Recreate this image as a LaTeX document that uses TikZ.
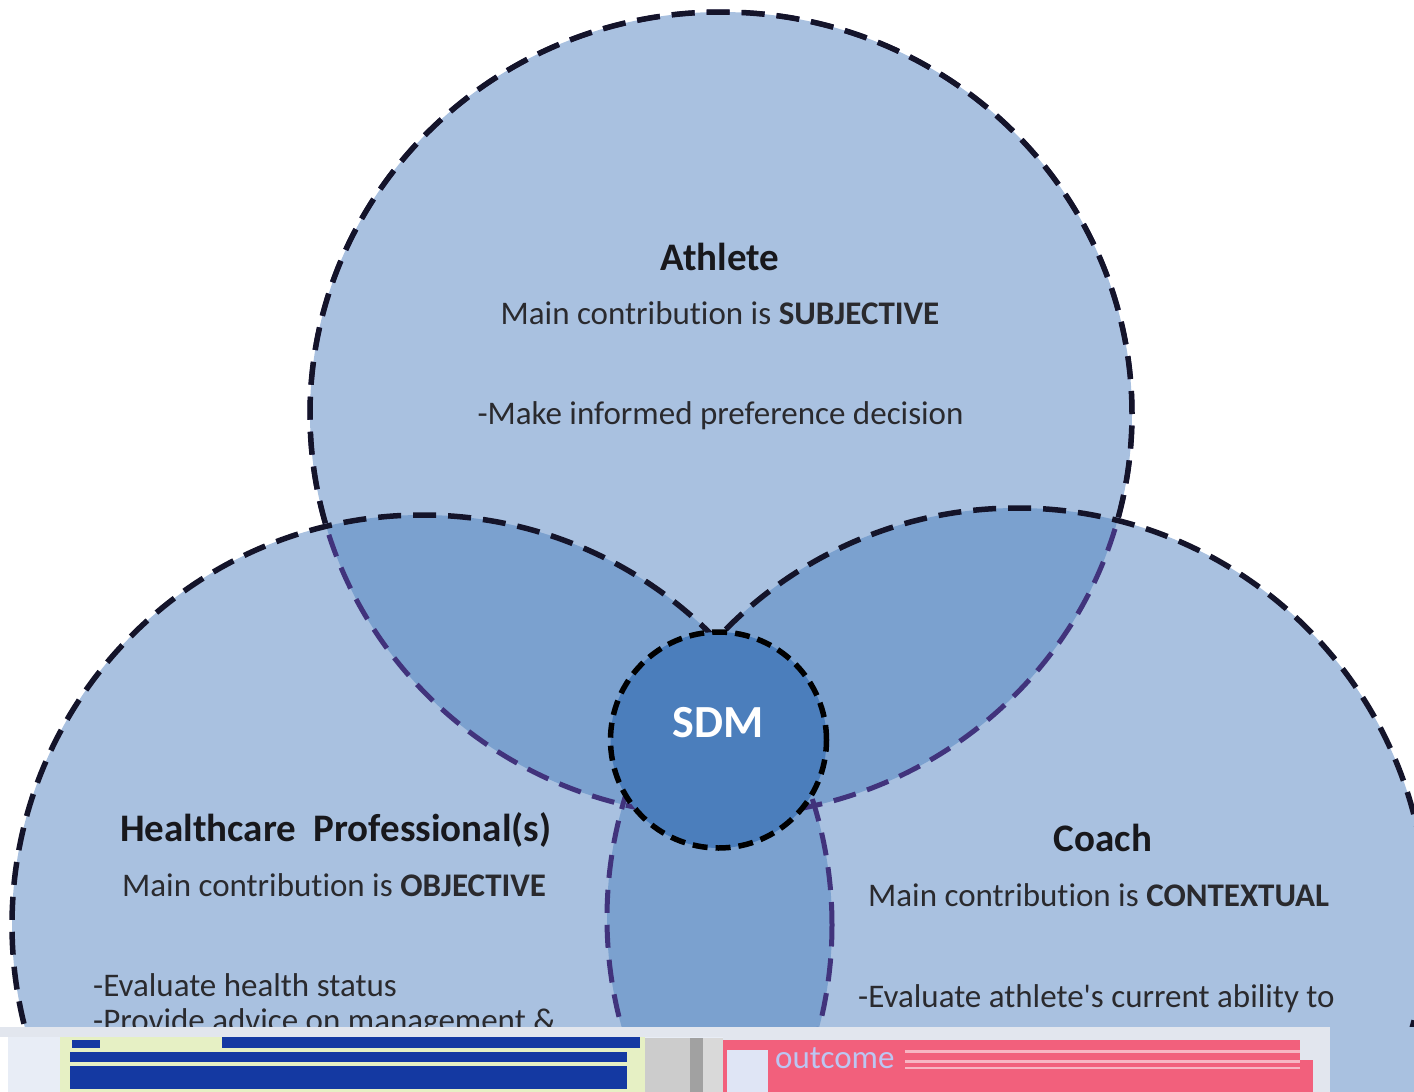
\documentclass[tikz,border=0pt]{standalone}
\usepackage{fontspec}
\setmainfont{Carlito}[Ligatures={NoCommon,TeXOff}]
\definecolor{light}{HTML}{A9C1E0}
\definecolor{lens}{HTML}{7BA1CF}
\definecolor{sdmfill}{HTML}{4B7EBC}
\definecolor{linedark}{HTML}{14142A}
\definecolor{linepurple}{HTML}{41337C}
\definecolor{textgray}{HTML}{2A2A2E}
\definecolor{textdark}{HTML}{18181C}
\definecolor{stripbg}{HTML}{E8EDF6}
\definecolor{paleyg}{HTML}{E6F0C4}
\definecolor{bluebar}{HTML}{1439A2}
\definecolor{pinkbar}{HTML}{F2607C}
\definecolor{pinklight}{HTML}{F7B6C3}
\definecolor{noisepale}{HTML}{E2E6EE}
\definecolor{outcomecol}{HTML}{BCC6F2}
\begin{document}
\begin{tikzpicture}[x=1pt,y=-1pt,
  outerline/.style={draw=linedark, line width=5.5pt, dash pattern=on 23pt off 12pt},
  innerline/.style={draw=linepurple, line width=5pt, dash pattern=on 23pt off 12pt},
  sdmline/.style={draw=black, line width=5.5pt, dash pattern=on 15pt off 8pt},
  body/.style={font=\fontsize{33}{40}\selectfont, text=textgray, inner sep=0pt, anchor=base west},
  title/.style={font=\bfseries\fontsize{39}{46}\selectfont, text=textdark, inner sep=0pt, anchor=base},
]
\useasboundingbox (0,0) rectangle (1414,1092);
\clip (0,0) rectangle (1414,1092);
\def\pT{(721,414) ellipse [x radius=411pt, y radius=402pt]}
\def\pL{(422,925) circle [radius=410pt]}
\def\pR{(1017,918) circle [radius=410pt]}
\def\pS{(718.5,740) circle [radius=108pt]}
\def\bigrect{(-100,-100) rectangle (1600,1300)}
% fills
\fill[light] \pT;
\fill[light] \pL;
\fill[light] \pR;
\begin{scope}
  \clip \pT;
  \fill[lens] \pL;
  \fill[lens] \pR;
\end{scope}
\begin{scope}
  \clip \pL;
  \fill[lens] \pR;
\end{scope}
% top circle border
\path[innerline] \pT;
\begin{scope}[even odd rule]
  \clip \bigrect \pL;
  \begin{scope}[even odd rule]
    \clip \bigrect \pR;
    \path[outerline] \pT;
  \end{scope}
\end{scope}
% left circle border
\begin{scope}[even odd rule]
  \clip \bigrect \pR;
  \path[outerline] \pL;
\end{scope}
\begin{scope}
  \clip \pR;
  \path[innerline] \pL;
\end{scope}
% right circle border
\begin{scope}[even odd rule]
  \clip \bigrect \pL;
  \path[outerline] \pR;
\end{scope}
\begin{scope}
  \clip \pL;
  \path[innerline] \pR;
\end{scope}
% SDM
\fill[sdmfill] \pS;
\path[sdmline] \pS;
\node[font=\bfseries\fontsize{46}{50}\selectfont, text=white, anchor=base, inner sep=0pt] (sdm) at (718,737) {SDM};
% texts
\node[title] (ath) at (720,270) {Athlete};
\node[body, anchor=base] (athc) at (720,324) {Main contribution is \textbf{SUBJECTIVE}};
\node[body, anchor=base] (athd) at (720.5,424) {-Make informed preference decision};
\node[title, anchor=base west] (hcp) at (120,841) {Healthcare\ \ Professional(s)};
\node[body] (hcpc) at (122,896) {Main contribution is \textbf{OBJECTIVE}};
\node[body] (hcp1) at (93,996) {-Evaluate health status};
\node[body] (hcp2) at (93,1031) {-Provide advice on management \&};
\node[title] (coach) at (1103,851) {Coach};
\node[body] (coachc) at (868,906) {Main contribution is \textbf{CONTEXTUAL}};
\node[body] (coach1) at (858,1007) {-Evaluate athlete's current ability to};
% corrupted bottom strip
\fill[white] (0,1027) rectangle (1414,1092);
\fill[stripbg] (8,1033) rectangle (723,1092);
\fill[noisepale] (0,1027) rectangle (1414,1037);
\fill[paleyg] (60,1037) rectangle (645,1092);
\fill[bluebar] (222,1037) rectangle (640,1048);
\fill[bluebar] (72,1040) rectangle (100,1048);
\fill[bluebar] (70,1052) rectangle (627,1062);
\fill[bluebar] (70,1066) rectangle (627,1089);
\fill[black!20] (645,1038) rectangle (690,1092);
\fill[black!37] (690,1038) rectangle (703,1092);
\fill[black!15] (703,1038) rectangle (723,1092);
\fill[noisepale] (723,1027) rectangle (1330,1040);
\fill[pinkbar] (723,1040) rectangle (1300,1092);
\fill[pinkbar] (1300,1060) rectangle (1313,1092);
\fill[stripbg!80!outcomecol] (727,1050) rectangle (768,1092);
\fill[pinklight] (905,1050) rectangle (1300,1053);
\fill[pinklight] (905,1060) rectangle (1300,1063);
\fill[pinklight] (905,1067) rectangle (1300,1069);
\fill[noisepale] (1300,1040) rectangle (1330,1060);
\fill[noisepale] (1313,1060) rectangle (1330,1092);
\fill[light] (1330,1027) rectangle (1414,1092);
\node[font=\fontsize{33}{40}\selectfont, text=outcomecol, anchor=base west, inner sep=0pt] (outc) at (775,1068) {outcome};
\end{tikzpicture}
\end{document}
